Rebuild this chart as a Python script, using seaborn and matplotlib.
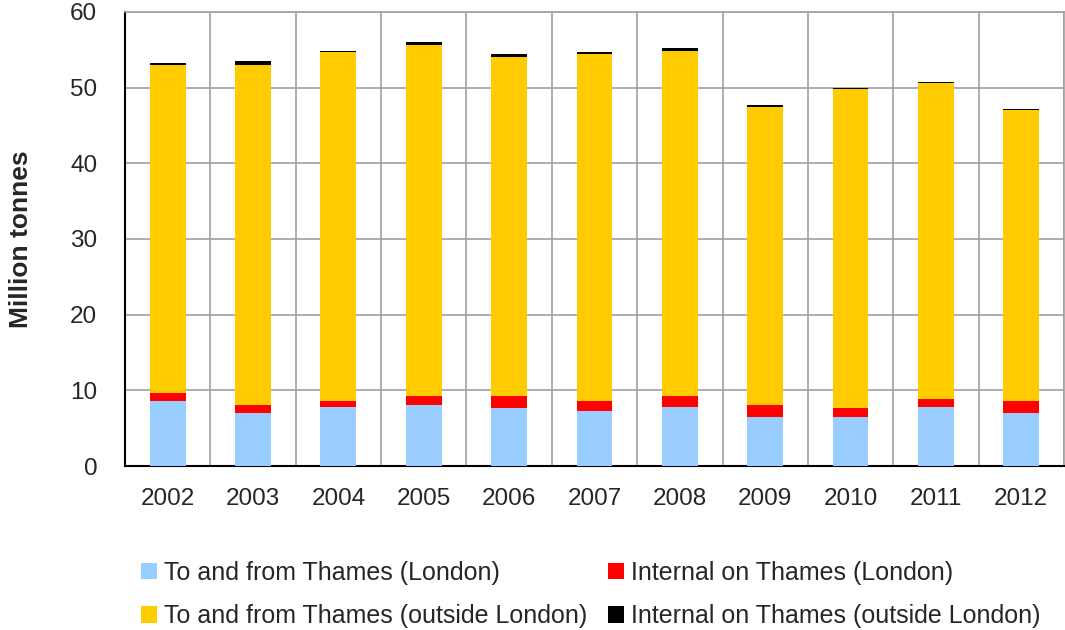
import numpy as np
import pandas as pd
import seaborn as sns
import matplotlib
matplotlib.use("Agg")
import matplotlib.pyplot as plt
from matplotlib.patches import Patch

#### Data (million tonnes)
years = ["2002", "2003", "2004", "2005", "2006", "2007", "2008", "2009", "2010", "2011", "2012"]
london_to_from = [8.6, 7.0, 7.8, 8.1, 7.6, 7.3, 7.8, 6.5, 6.5, 7.8, 7.0]
london_internal = [1.1, 1.1, 0.8, 1.1, 1.6, 1.3, 1.4, 1.6, 1.1, 1.1, 1.6]
outside_to_from = [43.25, 44.85, 46.1, 46.5, 44.9, 45.8, 45.7, 39.3, 42.2, 41.7, 38.5]
outside_internal = [0.25, 0.55, 0.2, 0.3, 0.3, 0.3, 0.3, 0.25, 0.2, 0.2, 0.05]

series = ["To and from Thames (London)", "Internal on Thames (London)",
          "To and from Thames (outside London)", "Internal on Thames (outside London)"]
values = [london_to_from, london_internal, outside_to_from, outside_internal]
colors = ["#99CCFF", "#FF0000", "#FFCC00", "#000000"]

sns.set_style("white")
plt.rcParams['font.family'] = ['Liberation Sans', 'DejaVu Sans']

fig = plt.figure(figsize=(10.65, 6.3), dpi=100, facecolor="white")
ax = fig.add_axes([0.1174, 0.2603, 0.8816, 0.7207])

bottom = np.zeros(len(years))
for name, vals, col in zip(series, values, colors):
    df = pd.DataFrame({"year": years, "value": vals})
    sns.barplot(data=df, x="year", y="value", color=col, bottom=bottom,
                width=0.42, saturation=1, ax=ax, zorder=3, linewidth=0)
    bottom = bottom + np.array(vals)

ax.set_ylim(0, 60)
ax.set_xlim(-0.5, len(years) - 0.5)
ax.set_yticks(range(0, 61, 10))
ax.set_xticks(np.arange(-0.5, len(years), 1.0), minor=True)
ax.grid(True, axis="y", color="#A0A0A0", linewidth=1.2, zorder=0)
ax.grid(True, axis="x", which="minor", color="#A0A0A0", linewidth=1.2, zorder=0)
ax.tick_params(axis="x", which="major", length=0, pad=16, labelsize=17.5)
ax.tick_params(axis="x", which="minor", length=8, width=1.2, color="black", direction="out")
ax.tick_params(axis="y", length=8, width=1.2, color="black", direction="out", pad=12, labelsize=17.5)
ax.set_xlabel("")
ax.set_ylabel("Million tonnes", fontsize=19, fontweight="bold", labelpad=27)

for s in ["top", "right"]:
    ax.spines[s].set_color("#A0A0A0")
    ax.spines[s].set_linewidth(1.2)
for s in ["left", "bottom"]:
    ax.spines[s].set_color("black")
    ax.spines[s].set_linewidth(1.5)

handles = [Patch(facecolor=c, edgecolor="none", label=n) for n, c in zip(series, colors)]
order = [0, 2, 1, 3]
fig.legend([handles[i] for i in order], [series[i] for i in order],
           loc="upper left", bbox_to_anchor=(0.132, 0.11), ncol=2, frameon=False,
           fontsize=18, handlelength=0.65, handleheight=0.65, handletextpad=0.3,
           columnspacing=0.8, labelspacing=0.78, borderaxespad=0, borderpad=0)

plt.savefig("out.png", dpi=100, facecolor="white")
